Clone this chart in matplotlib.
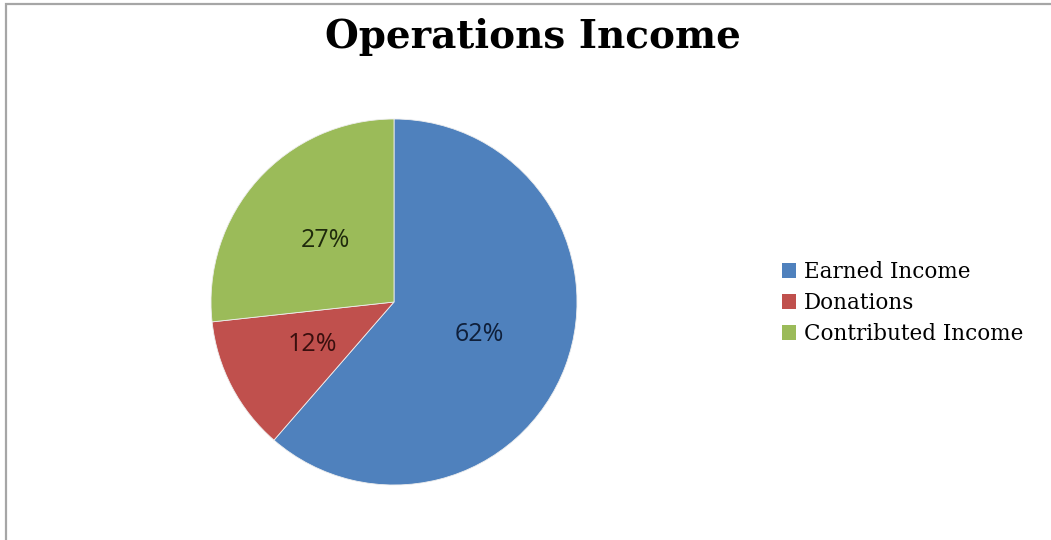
import matplotlib
matplotlib.use('Agg')
import matplotlib.pyplot as plt
from matplotlib.patches import Rectangle, Patch

# данные
categories = ['Earned Income', 'Donations', 'Contributed Income']
values = [62, 12, 27]
pct_labels = ['62%', '12%', '27%']
colors = ['#4F81BD', '#C0504D', '#9BBB59']
text_colors = ['#0f1f3a', '#3a0f0e', '#1f2a0c']

W, H = 1051, 540
fig = plt.figure(figsize=(W / 100, H / 100), dpi=100)
fig.patch.set_facecolor('white')

# rama wykresu
fig.patches.append(Rectangle((6 / W, -0.1), 1.2, 1.1 - 4 / H,
                             transform=fig.transFigure, fill=False,
                             edgecolor='#a6a6a6', linewidth=1.6))

fig.text(533 / W, 1 - 37 / H, 'Operations Income', ha='center', va='center',
         fontsize=28, fontweight='bold', family='DejaVu Serif')

cx, cy, r = 394, 302, 183
ax = fig.add_axes([(cx - r) / W, (H - cy - r) / H, 2 * r / W, 2 * r / H])
wedges, texts = ax.pie(values, labels=pct_labels, colors=colors, startangle=90,
                       counterclock=False, labeldistance=0.5, radius=1,
                       wedgeprops={'linewidth': 0.6, 'edgecolor': '#eeeeee'},
                       textprops={'fontsize': 18, 'family': 'Open Sans'})
for t, c in zip(texts, text_colors):
    t.set_color(c)
    t.set_ha('center')
    t.set_va('center')
ax.set_xlim(-1, 1)
ax.set_ylim(-1, 1)
ax.set_aspect('equal')
ax.axis('off')

handles = [Patch(facecolor=c, edgecolor='none') for c in colors]
fig.legend(handles, categories, loc='center left',
           bbox_to_anchor=(782 / W, 1 - 303 / H), frameon=False,
           prop={'family': 'DejaVu Serif', 'size': 15.5},
           handlelength=0.65, handleheight=0.65, handletextpad=0.35,
           labelspacing=0.42, borderaxespad=0, borderpad=0)

fig.savefig('out.png', dpi=100, facecolor='white')
